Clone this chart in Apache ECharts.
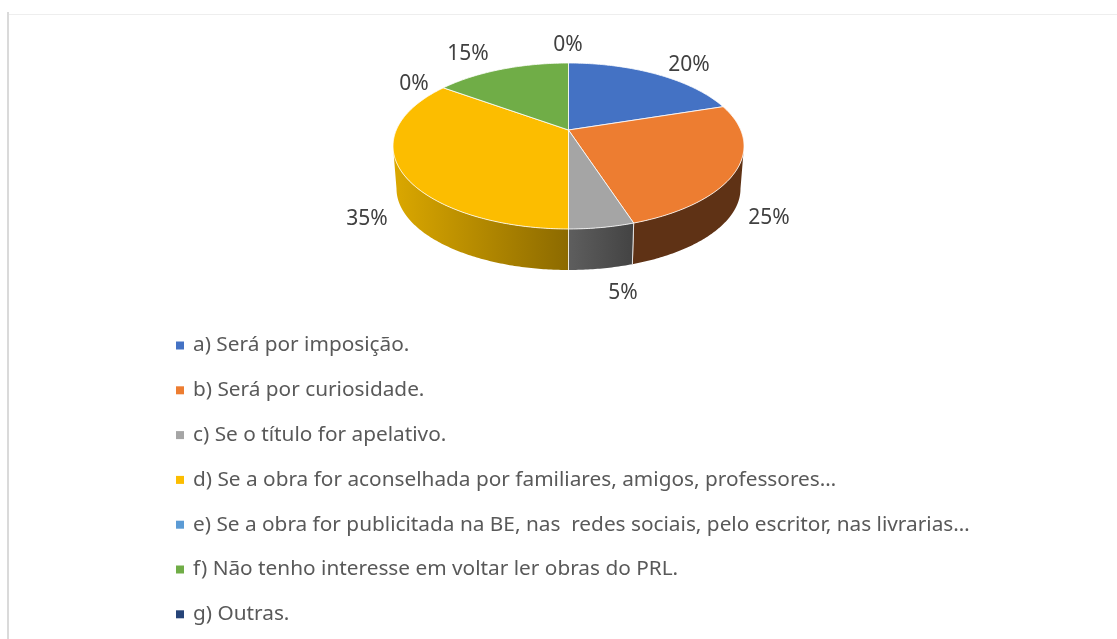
<!DOCTYPE html>
<html><head><meta charset="utf-8">
<style>html,body{margin:0;padding:0;background:#fff}#c{width:1117px;height:639px}</style>
<script src="https://cdn.jsdelivr.net/npm/echarts@6/dist/echarts.min.js"></script>
</head><body><div id="c"></div>
<script>
const categories = [
  'a) Será por imposição.',
  'b) Será por curiosidade.',
  'c) Se o título for apelativo.',
  'd) Se a obra for aconselhada por familiares, amigos, professores…',
  'e) Se a obra for publicitada na BE, nas  redes sociais, pelo escritor, nas livrarias…',
  'f) Não tenho interesse em voltar ler obras do PRL.',
  'g) Outras.'
];
const shares = [20, 25, 5, 35, 0, 15, 0];
const percentLabels = ['20%', '25%', '5%', '35%', '0%', '15%', '0%'];
const colors = ['#4472C4', '#ED7D31', '#A5A5A5', '#FCBD00', '#5B9BD5', '#70AD47', '#264478'];

// Presentation only: label centres and side-wall shading per slice
const labelCentres = [[689,65],[769,218],[623,293],[367,219],[414,84],[468,54],[568,45]];
const sideFills = [null, ['#5F3215','#5F3215'], ['#5E5E5E','#434343'], ['#DBA800','#8C6A00'], null, null, null];

// Perspective disc
const cx = 568.5, cy = 130, a = 172.2, b = 79.9, k = 0.1928, depthCy = 173, depthScale = 0.98;
const total = shares.reduce((s, v) => s + v, 0);
const tangentL = Math.acos(-k), tangentR = 2 * Math.PI - tangentL;

function project(t, bottom) {
  const u = Math.sin(t), v = Math.cos(t), w = 1 + k * v;
  const s = bottom ? depthScale : 1, y0 = bottom ? depthCy : cy;
  return [cx + s * a * u / w, y0 - s * b * v / w];
}
function arc(t0, t1, bottom) {
  const n = Math.max(2, Math.ceil(Math.abs(t1 - t0) / 0.012)), pts = [];
  for (let i = 0; i <= n; i++) pts.push(project(t0 + (t1 - t0) * i / n, bottom));
  return pts;
}
function renderSlice(i) {
  return function () {
    const children = [];
    const before = shares.slice(0, i).reduce((s, v) => s + v, 0);
    const t0 = before / total * 2 * Math.PI, t1 = (before + shares[i]) / total * 2 * Math.PI;
    if (shares[i] > 0) {
      const s0 = Math.max(t0, tangentL), s1 = Math.min(t1, tangentR);
      if (s1 > s0 && sideFills[i]) {
        children.push({
          type: 'polygon',
          shape: { points: arc(s0, s1, false).concat(arc(s1, s0, true)) },
          style: { fill: new echarts.graphic.LinearGradient(s0 < Math.PI ? 0 : 1, 0, s0 < Math.PI ? 1 : 0, 0,
            [{ offset: 0, color: sideFills[i][s0 < Math.PI ? 0 : 1] }, { offset: 1, color: sideFills[i][s0 < Math.PI ? 1 : 0] }]) }
        });
        [t0, t1].forEach(t => {
          if (t >= tangentL && t <= tangentR) {
            children.push({ type: 'polyline',
              shape: { points: [project(t, false), project(t, true)] },
              style: { stroke: 'rgba(255,255,255,0.75)', lineWidth: 1, fill: null } });
          }
        });
      }
      children.push({
        type: 'polygon',
        shape: { points: [[cx, cy]].concat(arc(t0, t1, false)) },
        style: { fill: colors[i], stroke: 'rgba(255,255,255,0.8)', lineWidth: 1, lineJoin: 'round' }
      });
    }
    children.push({
      type: 'text', x: labelCentres[i][0], y: labelCentres[i][1], z2: 10,
      style: { text: percentLabels[i], fill: '#404040', font: '21px "Noto Sans"', textAlign: 'center', textVerticalAlign: 'middle' }
    });
    return { type: 'group', children };
  };
}

const chart = echarts.init(document.getElementById('c'), null, { renderer: 'canvas', width: 1117, height: 639 });
chart.setOption({
  animation: false,
  backgroundColor: '#fff',
  color: colors,
  legend: {
    orient: 'vertical', left: 176, top: 330, padding: 0,
    icon: 'rect', itemWidth: 8, itemHeight: 8, itemGap: 13.8,
    selectedMode: false,
    data: categories,
    textStyle: { fontFamily: 'Noto Sans', fontSize: 20.8, color: '#595959', padding: [0, 0, 0, 4], lineHeight: 31 },
    formatter: n => n
  },
  graphic: [
    { type: 'rect', shape: { x: 7, y: 12, width: 2, height: 627 }, style: { fill: '#DADADA' }, silent: true },
    { type: 'rect', shape: { x: 9, y: 14, width: 1108, height: 1 }, style: { fill: '#EEEEEE' }, silent: true }
  ],
  series: categories.map((name, i) => ({
    type: 'custom', name, coordinateSystem: 'none', silent: true,
    itemStyle: { color: colors[i] },
    data: [[shares[i]]],
    renderItem: renderSlice(i)
  }))
});
</script></body></html>
